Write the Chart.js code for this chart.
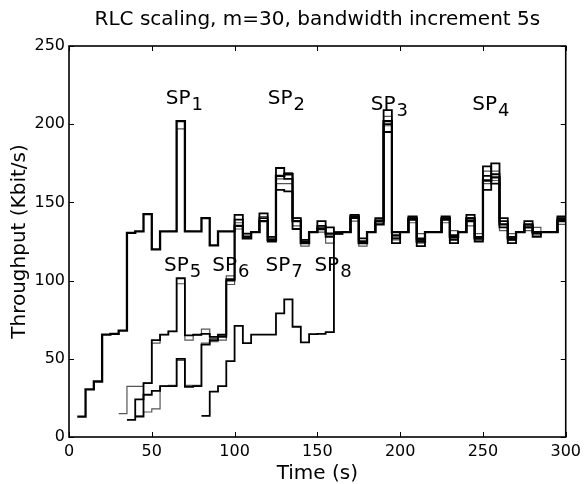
<!DOCTYPE html>
<html>
<head>
<meta charset="utf-8">
<script src="https://cdn.jsdelivr.net/npm/chart.js@4.4.1/dist/chart.umd.min.js"></script>
<style>
  html, body { margin: 0; padding: 0; background: #fff; }
  #wrap { width: 586px; height: 484px; }
</style>
</head>
<body>
<div id="wrap"><canvas id="c" width="586" height="484"></canvas></div>
<script>
// ---- data (Kbit/s, one value per 5 s bandwidth increment) ----
const stepSeconds = 5;

const run1Start = 5;
const run1 = [13, 30.5, 35.5, 65.5, 66, 68, 130.5, 131.5, 142.5, 120,
  131.5, 131.5, 202, 131.5, 131.5, 140, 122.5, 131.5, 131.5, 135,
  127, 131, 138, 126, 167, 168, 138, 124, 131, 133,
  130, 130, 131, 141, 124, 131, 136, 202, 131, 131,
  139, 125, 131, 131, 139, 128, 131, 138, 127, 164,
  166, 136, 127, 131, 134, 131, 131, 131, 138];

const run1bStart = 60;
const run1b = [131.5, 197, 131.5];

const run2Start = 35;
const run2 = [11, 24, 34.5, 62, 65.4, 67.5, 101.5, 65, 65.4, 66,
  64, 65.4, 101, 142, 130, 131, 143, 128, 172, 165,
  133, 125, 131, 138, 134, 130, 131, 142, 127, 131,
  140, 209, 124, 131, 141, 122, 131, 131, 141, 124,
  131, 142, 125, 173, 162, 140, 124, 131, 138, 128,
  131, 131, 141];

const run2bStart = 30;
const run2b = [15, 32.4, 32.4, 34.5, 60, 65.4, 67.5, 98, 62, 65,
  69, 61, 65, 97.5, 137, 129, 131, 141, 127, 165,
  169, 140, 122, 131, 131, 124, 131, 131, 138, 122,
  131, 137, 205, 128, 131, 137, 130, 131, 131, 137,
  132, 131, 135, 130, 170, 170, 132, 130, 131, 132,
  134, 131, 131, 136];

const run3Start = 40;
const run3 = [13, 27, 29.5, 32.5, 32.5, 50, 32, 32.5, 59, 62,
  64, 100, 139, 128, 131, 140, 125, 158, 157, 140,
  126, 131, 135, 128, 131, 131, 140, 125, 131, 138,
  195, 127, 131, 140, 126, 131, 131, 140, 126, 131,
  140, 128, 158, 175, 138, 126, 131, 136, 130, 131,
  131, 139];

const run3bStart = 40;
const run3b = [13.5, 16, 18, 32.5, 33, 49, 33, 33, 60, 63,
  62, 103, 133, 127, 131, 138, 127, 162, 162, 135,
  124, 131, 134, 129, 131, 131, 140, 124, 131, 139,
  199, 126, 131, 139, 124, 131, 131, 139, 127, 131,
  139, 126, 162, 164, 136, 126, 131, 135, 129, 131,
  131, 138];

const run4Start = 80;
const run4 = [13.5, 29, 32.5, 48.5, 71, 60, 65.5, 65.5, 65.5, 79,
  88, 70.5, 60.5, 65.8, 66, 67, 130.4, 131, 140, 125,
  131, 138, 200, 129, 131, 140, 127, 131, 131, 140,
  129, 131, 140, 127, 167, 168, 134, 128, 131, 136,
  131, 131, 131, 140];

// axis ticks
const xTicks = [0, 50, 100, 150, 200, 250, 300];
const yTicks = [0, 50, 100, 150, 200, 250];

// annotations (start time s, level Kbit/s, subscript)
const spSub = ['1', '2', '3', '4', '5', '6', '7', '8'];
const spTime = [58.4, 120, 182.3, 243.6, 57.4, 86.5, 118.7, 148.2];
const spLevel = [213, 213, 209, 209, 106.3, 106.3, 106.3, 106.3];

const titleText = 'RLC scaling, m=30, bandwidth increment 5s';
const xTitle = 'Time (s)';
const yTitle = 'Throughput (Kbit/s)';

// ---- build ----
function toPoints(start, vals) {
  const pts = vals.map((v, i) => ({ x: start + stepSeconds * i, y: v }));
  pts.push({ x: start + stepSeconds * vals.length, y: vals[vals.length - 1] });
  return pts;
}
function ds(label, start, vals, color, width) {
  return {
    label, data: toPoints(start, vals), borderColor: color, borderWidth: width,
    stepped: 'before', pointRadius: 0, fill: false, tension: 0
  };
}

const FONT = 'DejaVu Sans';
Chart.defaults.font.family = FONT;
Chart.defaults.color = '#000';

const frame = {
  id: 'frame',
  afterDraw(chart) {
    const { ctx, chartArea: a, scales } = chart;
    ctx.save();
    ctx.strokeStyle = '#000';
    ctx.lineWidth = 1;
    const tl = 5;
    ctx.beginPath();
    xTicks.forEach(v => {
      const px = Math.round(scales.x.getPixelForValue(v)) + 0.5;
      ctx.moveTo(px, a.bottom); ctx.lineTo(px, a.bottom - tl);
      ctx.moveTo(px, a.top); ctx.lineTo(px, a.top + tl);
    });
    yTicks.forEach(v => {
      const py = Math.round(scales.y.getPixelForValue(v)) + 0.5;
      ctx.moveTo(a.left, py); ctx.lineTo(a.left + tl, py);
      ctx.moveTo(a.right, py); ctx.lineTo(a.right - tl, py);
    });
    ctx.stroke();
    ctx.lineWidth = 1.6;
    ctx.strokeRect(a.left, a.top, a.right - a.left, a.bottom - a.top);
    // SP labels
    ctx.fillStyle = '#000';
    ctx.textBaseline = 'alphabetic';
    ctx.textAlign = 'left';
    spSub.forEach((s, i) => {
      const x = scales.x.getPixelForValue(spTime[i]);
      const y = scales.y.getPixelForValue(spLevel[i]);
      ctx.font = '20px "' + FONT + '"';
      ctx.fillText('SP', x, y);
      const w = ctx.measureText('SP').width;
      ctx.font = '18px "' + FONT + '"';
      ctx.fillText(s, x + w + 1, y + 6);
    });
    ctx.restore();
  }
};

new Chart(document.getElementById('c'), {
  type: 'line',
  data: {
    datasets: [
      ds('run 1', run1Start, run1, '#000', 2.3),
      ds('run 2', run2Start, run2, '#000', 1.8),
      ds('run 3', run3Start, run3, '#000', 1.8),
      ds('run 4', run4Start, run4, '#000', 1.8),
      ds('run 1b', run1bStart, run1b, '#555', 1.2),
      ds('run 2b', run2bStart, run2b, '#555', 1.2),
      ds('run 3b', run3bStart, run3b, '#555', 1.2)
    ]
  },
  options: {
    responsive: false,
    animation: false,
    devicePixelRatio: 1,
    layout: { padding: { left: 0, right: 19, top: 0, bottom: 0 } },
    plugins: {
      legend: { display: false },
      tooltip: { enabled: false },
      title: {
        display: true, text: titleText, color: '#000', fullSize: false,
        font: { family: FONT, size: 20, weight: 'normal' },
        padding: { top: 8, bottom: 14 }
      }
    },
    scales: {
      x: {
        type: 'linear', min: 0, max: 300,
        afterFit: s => { s.height = 47; },
        afterBuildTicks: s => { s.ticks = xTicks.map(v => ({ value: v })); },
        grid: { display: false, drawTicks: false },
        border: { display: false },
        ticks: { font: { size: 16 }, padding: 5, color: '#000', maxRotation: 0 },
        title: { display: true, text: xTitle, font: { size: 20, lineHeight: 1 }, padding: { top: 0, bottom: 0 }, color: '#000' }
      },
      y: {
        type: 'linear', min: 0, max: 250,
        afterFit: s => { s.width = 69; },
        afterBuildTicks: s => { s.ticks = yTicks.map(v => ({ value: v })); },
        grid: { display: false, drawTicks: false },
        border: { display: false },
        ticks: { font: { size: 16 }, padding: 4, color: '#000' },
        title: { display: true, text: yTitle, font: { size: 20 }, padding: { top: 8, bottom: 0 }, color: '#000' }
      }
    }
  },
  plugins: [frame]
});
</script>
</body>
</html>
